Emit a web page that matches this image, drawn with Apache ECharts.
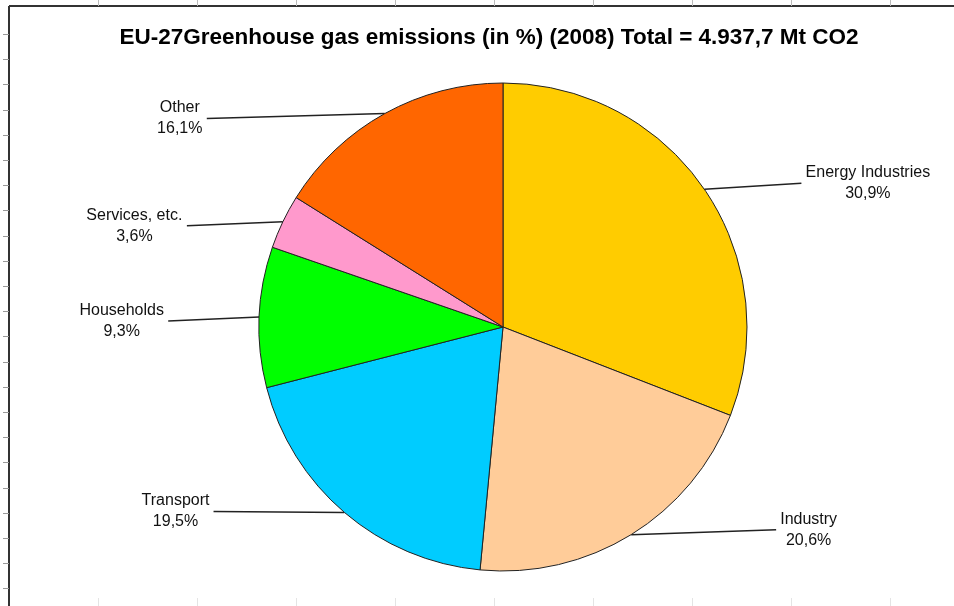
<!DOCTYPE html>
<html>
<head>
<meta charset="utf-8">
<script src="https://cdn.jsdelivr.net/npm/echarts@6/dist/echarts.min.js"></script>
<style>
  html, body { margin: 0; padding: 0; background: #fff; }
  #chart { width: 954px; height: 606px; }
</style>
</head>
<body>
<div id="chart"></div>
<script>
const titleText = 'EU-27Greenhouse gas emissions (in %) (2008) Total = 4.937,7 Mt CO2';
const categories = ['Energy Industries', 'Industry', 'Transport', 'Households', 'Services, etc.', 'Other'];
const shares = [30.9, 20.6, 19.5, 9.3, 3.6, 16.1];
const sliceColors = ['#FFCC00', '#FFCC99', '#00CCFF', '#00FF00', '#FF99CC', '#FF6600'];
const leaderLengths = [97, 145, 131, 91, 96, 178];
const labelShiftY = [-6, -5, -1, 4, 4, 5];

const labelFontSize = 16;
const labelFamily = '"Liberation Sans", Arial, sans-serif';
const measureCtx = document.createElement('canvas').getContext('2d');
measureCtx.font = labelFontSize + 'px ' + labelFamily;
function fmtPct(v) { return v.toFixed(1).replace('.', ',') + '%'; }
function blockWidth(name, v) {
  return Math.ceil(Math.max(measureCtx.measureText(name).width, measureCtx.measureText(fmtPct(v)).width)) + 2;
}

const pieData = categories.map((name, i) => ({
  name: name,
  value: shares[i],
  itemStyle: { color: sliceColors[i] },
  labelLine: { length: 0, length2: leaderLengths[i] },
  label: {
    rich: {
      t: { width: blockWidth(name, shares[i]), align: 'center', fontFamily: labelFamily, fontSize: labelFontSize, lineHeight: 21, color: '#111' }
    }
  }
}));

// frame decoration
const frameGraphics = [];
frameGraphics.push({ type: 'line', shape: { x1: 9, y1: 6, x2: 954, y2: 6 }, style: { stroke: '#333', lineWidth: 2 } });
frameGraphics.push({ type: 'line', shape: { x1: 9, y1: 6, x2: 9, y2: 606 }, style: { stroke: '#333', lineWidth: 2 } });
for (let y = 34; y < 606; y += 25.2) {
  frameGraphics.push({ type: 'line', shape: { x1: 3, y1: Math.round(y) + 0.5, x2: 9, y2: Math.round(y) + 0.5 }, style: { stroke: '#999', lineWidth: 1 } });
}
for (let x = 98; x < 954; x += 99) {
  frameGraphics.push({ type: 'line', shape: { x1: x + 0.5, y1: 0, x2: x + 0.5, y2: 6 }, style: { stroke: '#bbb', lineWidth: 1 } });
  frameGraphics.push({ type: 'line', shape: { x1: x + 0.5, y1: 598, x2: x + 0.5, y2: 606 }, style: { stroke: '#e4e4e4', lineWidth: 1 } });
}

const chart = echarts.init(document.getElementById('chart'), null, { renderer: 'canvas' });
chart.setOption({
  animation: false,
  backgroundColor: '#fff',
  title: {
    text: titleText,
    left: 484,
    textAlign: 'center',
    top: 21,
    textStyle: { fontFamily: '"Liberation Sans", Arial, sans-serif', fontWeight: 'bold', fontSize: 22.5, color: '#000' }
  },
  graphic: frameGraphics,
  series: [{
    type: 'pie',
    center: [503, 327],
    radius: 244,
    startAngle: 90,
    clockwise: true,
    avoidLabelOverlap: false,
    data: pieData,
    itemStyle: { borderColor: '#222', borderWidth: 1 },
    emphasis: { disabled: true },
    label: {
      show: true,
      position: 'outside',
      distanceToLabelLine: 3,
      formatter: function (p) { return '{t|' + p.name + '}\n{t|' + fmtPct(p.value) + '}'; }
    },
    labelLine: { show: true, length: 0, smooth: false, lineStyle: { color: '#222', width: 1.5 } },
    labelLayout: function (params) {
      const i = params.dataIndex;
      const pts = params.labelLinePoints;
      if (!pts) return {};
      const shift = labelShiftY[i];
      const end = pts[pts.length - 1];
      const newPts = pts.map(p => [p[0], p[1]]);
      newPts[newPts.length - 1] = [end[0], end[1] + shift];
      return {
        y: end[1] + shift,
        verticalAlign: 'middle',
        labelLinePoints: newPts
      };
    }
  }]
});
</script>
</body>
</html>
